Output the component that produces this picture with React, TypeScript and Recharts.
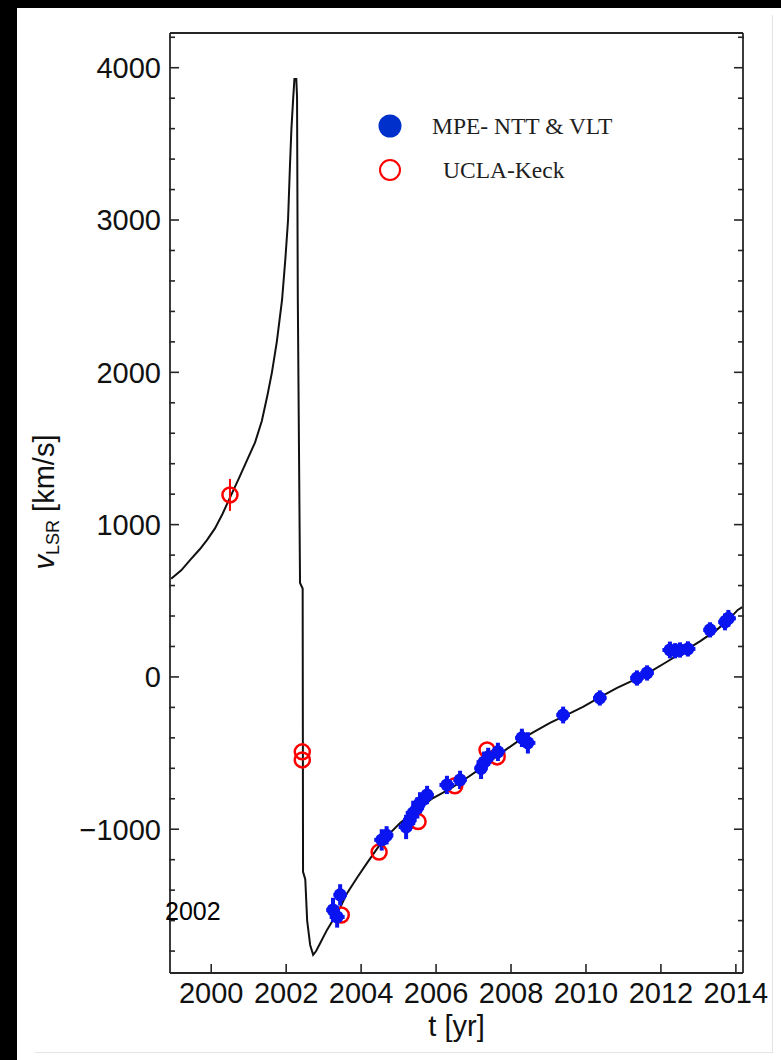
import React from "react";
import { ComposedChart, Line, Scatter, XAxis, YAxis, ErrorBar } from "recharts";

// model curve (t in yr, v_LSR in km/s)
const curveT = [
  1998.93, 1999.2, 1999.44, 1999.7, 1999.89, 2000.1, 2000.3, 2000.51, 2000.75, 2000.96,
  2001.17, 2001.35, 2001.5, 2001.62, 2001.75, 2001.89, 2001.98, 2002.05, 2002.1, 2002.14,
  2002.19, 2002.22, 2002.27, 2002.29, 2002.31, 2002.37, 2002.44, 2002.45, 2002.51, 2002.56,
  2002.64, 2002.72, 2002.8, 2002.91, 2003.09, 2003.25, 2003.45, 2003.63, 2003.9, 2004.16,
  2004.59, 2005.04, 2005.49, 2005.92, 2006.37, 2006.72, 2007.25, 2007.7, 2008.16, 2008.6,
  2009.04, 2009.5, 2009.92, 2010.4, 2010.83, 2011.3, 2011.71, 2012.15, 2012.59, 2013.05,
  2013.49, 2013.8, 2014.05, 2014.17,
];
const curveV = [
  645, 700, 768, 840, 900, 975, 1070, 1182, 1310, 1425,
  1540, 1680, 1850, 2000, 2200, 2475, 2750, 3000, 3350, 3600,
  3810, 3926, 3926, 3810, 2500, 617, 580, -1280, -1330, -1600,
  -1760, -1825, -1800, -1747, -1661, -1596, -1510, -1418, -1315, -1221,
  -1070, -959, -873, -795, -735, -680, -591, -505, -427, -362,
  -302, -248, -197, -130, -72, -18, 33, 98, 164, 235,
  309, 375, 440, 458,
];

// MPE NTT & VLT
const mpeT = [
  2003.25, 2003.36, 2003.44, 2004.55, 2004.68, 2005.2, 2005.3, 2005.39, 2005.5, 2005.57,
  2005.76, 2006.29, 2006.64, 2007.2, 2007.28, 2007.39, 2007.65, 2008.29, 2008.45, 2009.39,
  2010.37, 2011.36, 2011.63, 2012.24, 2012.38, 2012.51, 2012.72, 2013.31, 2013.71, 2013.8,
];
const mpeV = [
  -1530, -1576, -1431, -1070, -1040, -985, -940, -893, -860, -827,
  -775, -709, -676, -600, -560, -525, -492, -400, -433, -250,
  -138, -7, 26, 177, 172, 177, 184, 309, 361, 385,
];
const mpeErrT = [
  0.18, 0.2, 0.18, 0.2, 0.18, 0.2, 0.18, 0.2, 0.18, 0.2,
  0.18, 0.2, 0.18, 0.18, 0.2, 0.18, 0.2, 0.18, 0.2, 0.18,
  0.18, 0.18, 0.18, 0.2, 0.18, 0.18, 0.2, 0.18, 0.18, 0.2,
];
const mpeErrV = [
  80, 70, 70, 70, 60, 80, 70, 80, 70, 70,
  60, 60, 60, 70, 70, 60, 60, 60, 70, 55,
  50, 50, 50, 55, 50, 50, 50, 50, 55, 55,
];

// UCLA Keck
const uclaT = [2000.5, 2002.43, 2002.43, 2003.47, 2004.48, 2005.52, 2006.5, 2007.36, 2007.63];
const uclaV = [1195, -492, -545, -1563, -1150, -950, -715, -480, -525];
const uclaErrV = [105, 0, 0, 0, 0, 0, 0, 0, 0];

const xMajor = [2000, 2002, 2004, 2006, 2008, 2010, 2012, 2014];
const xMinor = [
  1999, 1999.5, 2000.5, 2001, 2001.5, 2002.5, 2003, 2003.5, 2004.5, 2005, 2005.5,
  2006.5, 2007, 2007.5, 2008.5, 2009, 2009.5, 2010.5, 2011, 2011.5, 2012.5, 2013, 2013.5,
];
const yMajor = [-1000, 0, 1000, 2000, 3000, 4000];
const yMinor = [
  -1800, -1600, -1400, -1200, -800, -600, -400, -200, 200, 400, 600, 800, 1200, 1400,
  1600, 1800, 2200, 2400, 2600, 2800, 3200, 3400, 3600, 3800, 4200,
];

const curve = curveT.map((t, i) => ({ t, v: curveV[i] }));
const mpe = mpeT.map((t, i) => ({ t, v: mpeV[i], et: mpeErrT[i], ev: mpeErrV[i] }));
const ucla = uclaT.map((t, i) => ({ t, v: uclaV[i], ev: uclaErrV[i] }));

const X_DOMAIN: [number, number] = [1998.9, 2014.19];
const Y_DOMAIN: [number, number] = [-1944, 4228];

const FRAME = "#262626";
const BLUE = "#0a14f0";
const RED = "#ff0000";
const sans = "'Liberation Sans', Arial, sans-serif";
const serif = "'Liberation Serif', 'Times New Roman', serif";
const tickText = { fontFamily: sans, fontSize: 29, fill: "#111" };
const tickLn = { stroke: FRAME, strokeWidth: 1.6 };
const frameLn = { stroke: FRAME, strokeWidth: 1.8 };
const blank = () => "";

export default function App() {
  return (
    <div style={{ position: "absolute", left: 0, top: 0, width: 781, height: 1060, background: "#fff", overflow: "hidden" }}>
      <div style={{ position: "absolute", left: 0, top: 0, width: 17, height: 1060, background: "#000" }} />
      <div style={{ position: "absolute", left: 0, top: 0, width: 781, height: 8, background: "#000" }} />
      <div style={{ position: "absolute", left: 772, top: 15, width: 1, height: 1037, background: "#e4e4e4" }} />
      <div style={{ position: "absolute", left: 35, top: 1052, width: 738, height: 1, background: "#e4e4e4" }} />

      <div style={{ position: "absolute", left: 0, top: 0 }}>
        {/* each side: major axis (next to the plot) then minor-tick axis, 1px each */}
        <ComposedChart width={781} height={1060} margin={{ top: 31, right: 36, bottom: 85, left: 168 }}>
          <XAxis xAxisId="b" dataKey="t" type="number" orientation="bottom" domain={X_DOMAIN} allowDataOverflow
            ticks={xMajor} interval={0} height={1} axisLine={frameLn} tickLine={tickLn} tickSize={-9} tickMargin={18}
            tick={tickText}
            label={{ value: "t [yr]", position: "bottom", offset: 41, style: { fontFamily: sans, fontSize: 29, fill: "#111" } }} />
          <XAxis xAxisId="bm" type="number" orientation="bottom" domain={X_DOMAIN} allowDataOverflow
            ticks={xMinor} interval={0} height={1} axisLine={false} tickLine={tickLn} tickSize={-6} tickFormatter={blank} />
          <XAxis xAxisId="t" type="number" orientation="top" domain={X_DOMAIN} allowDataOverflow
            ticks={xMajor} interval={0} height={1} axisLine={frameLn} tickLine={tickLn} tickSize={-9} tickFormatter={blank} />
          <XAxis xAxisId="tm" type="number" orientation="top" domain={X_DOMAIN} allowDataOverflow
            ticks={xMinor} interval={0} height={1} axisLine={false} tickLine={tickLn} tickSize={-6} tickFormatter={blank} />

          <YAxis yAxisId="l" dataKey="v" type="number" orientation="left" domain={Y_DOMAIN} allowDataOverflow
            ticks={yMajor} interval={0} width={1} axisLine={frameLn} tickLine={tickLn} tickSize={-9} tickMargin={18}
            tick={tickText} tickFormatter={(v: number) => (v < 0 ? `\u2212${Math.abs(v)}` : `${v}`)} />
          <YAxis yAxisId="lm" type="number" orientation="left" domain={Y_DOMAIN} allowDataOverflow
            ticks={yMinor} interval={0} width={1} axisLine={false} tickLine={tickLn} tickSize={-6} tickFormatter={blank} />
          <YAxis yAxisId="r" type="number" orientation="right" domain={Y_DOMAIN} allowDataOverflow
            ticks={yMajor} interval={0} width={1} axisLine={frameLn} tickLine={tickLn} tickSize={-9} tickFormatter={blank} />
          <YAxis yAxisId="rm" type="number" orientation="right" domain={Y_DOMAIN} allowDataOverflow
            ticks={yMinor} interval={0} width={1} axisLine={false} tickLine={tickLn} tickSize={-6} tickFormatter={blank} />

          <Line data={curve} dataKey="v" xAxisId="b" yAxisId="l" type="linear" stroke="#111" strokeWidth={2}
            dot={false} isAnimationActive={false} />

          <Scatter data={ucla} dataKey="v" xAxisId="b" yAxisId="l" isAnimationActive={false}
            shape={(p: any) => <circle cx={p.cx} cy={p.cy} r={7.5} fill="none" stroke={RED} strokeWidth={2.5} />}>
            <ErrorBar dataKey="ev" direction="y" width={0} stroke={RED} strokeWidth={2} />
          </Scatter>

          <Scatter data={mpe} dataKey="v" xAxisId="b" yAxisId="l" isAnimationActive={false}
            shape={(p: any) => <circle cx={p.cx} cy={p.cy} r={6.5} fill={BLUE} />}>
            <ErrorBar dataKey="ev" direction="y" width={0} stroke={BLUE} strokeWidth={4} />
            <ErrorBar dataKey="et" direction="x" width={0} stroke={BLUE} strokeWidth={4} />
          </Scatter>
        </ComposedChart>
      </div>

      {/* y label */}
      <div style={{
        position: "absolute", left: 46, top: 502, transform: "translate(-50%, -50%) rotate(-90deg)",
        whiteSpace: "nowrap", fontFamily: sans, fontSize: 29, color: "#111",
      }}>
        <i>v</i><sub style={{ fontSize: 18, verticalAlign: "-0.25em" }}>LSR</sub> [km/s]
      </div>

      {/* annotation */}
      <div style={{ position: "absolute", left: 165, top: 897, fontFamily: sans, fontSize: 25, color: "#000" }}>2002</div>

      {/* legend */}
      <div style={{ position: "absolute", left: 378, top: 113, fontFamily: serif, fontSize: 23.5, color: "#1e1e1e" }}>
        <div style={{ display: "flex", alignItems: "center", height: 26 }}>
          <svg width={24} height={24}><circle cx={12} cy={12} r={11.5} fill="#0030cc" /></svg>
          <span style={{ marginLeft: 30 }}>MPE- NTT &amp; VLT</span>
        </div>
        <div style={{ display: "flex", alignItems: "center", height: 26, marginTop: 18 }}>
          <svg width={24} height={24}><circle cx={12} cy={12} r={10} fill="none" stroke={RED} strokeWidth={2} /></svg>
          <span style={{ marginLeft: 41 }}>UCLA-Keck</span>
        </div>
      </div>
    </div>
  );
}
